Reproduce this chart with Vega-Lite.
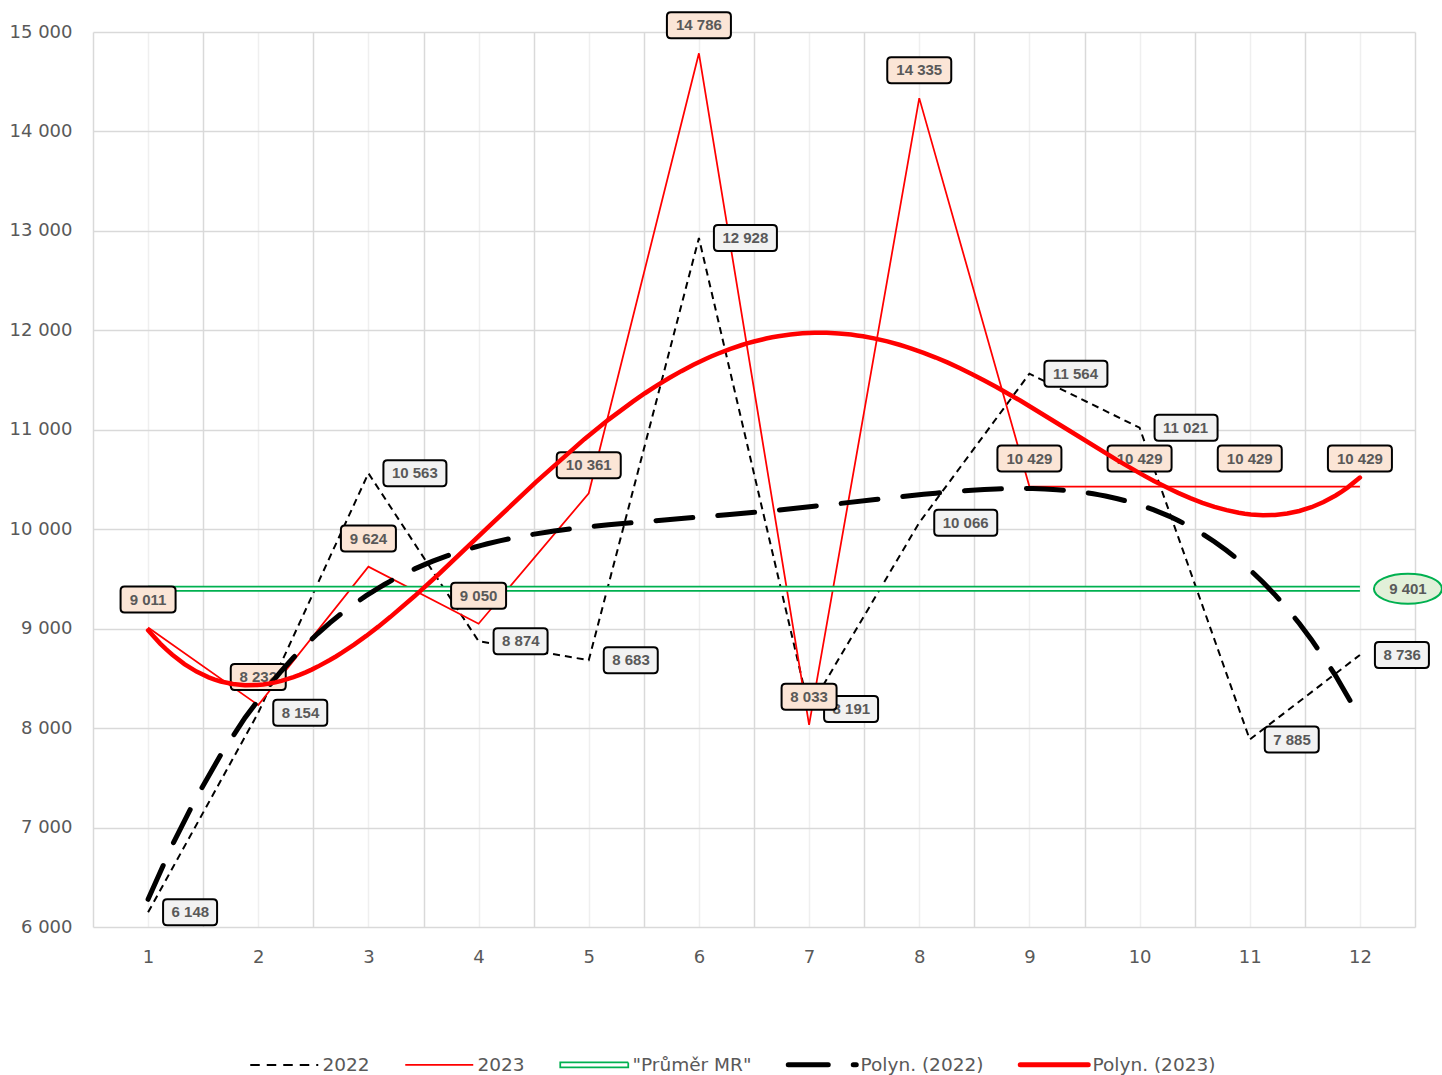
{
  "$schema": "https://vega.github.io/schema/vega-lite/v6.json",
  "width": 1322,
  "height": 895,
  "autosize": {"type": "none"},
  "padding": {"left": 93, "top": 32, "right": 27, "bottom": 148},
  "background": "white",
  "config": {
    "view": {"stroke": null},
    "font": "DejaVu Sans",
    "locale": {"number": {"decimal": ",", "thousands": " ", "grouping": [3], "currency": ["", ""]}},
    "axis": {"labelFont": "DejaVu Sans", "labelFontSize": 18, "labelColor": "#595959", "ticks": false, "tickSize": 0, "domain": false, "title": null}
  },
  "data": {
    "values": [
      {"m": 1, "v2022": 6148, "v2023": 9011, "avg": 9401},
      {"m": 2, "v2022": 8154, "v2023": 8232, "avg": 9401},
      {"m": 3, "v2022": 10563, "v2023": 9624, "avg": 9401},
      {"m": 4, "v2022": 8874, "v2023": 9050, "avg": 9401},
      {"m": 5, "v2022": 8683, "v2023": 10361, "avg": 9401},
      {"m": 6, "v2022": 12928, "v2023": 14786, "avg": 9401},
      {"m": 7, "v2022": 8191, "v2023": 8033, "avg": 9401},
      {"m": 8, "v2022": 10066, "v2023": 14335, "avg": 9401},
      {"m": 9, "v2022": 11564, "v2023": 10429, "avg": 9401},
      {"m": 10, "v2022": 11021, "v2023": 10429, "avg": 9401},
      {"m": 11, "v2022": 7885, "v2023": 10429, "avg": 9401},
      {"m": 12, "v2022": 8736, "v2023": 10429, "avg": 9401}
    ]
  },
  "resolve": {"axis": {"x": "independent", "y": "independent"}},
  "layer": [
    {
      "mark": {"type": "point", "opacity": 0},
      "encoding": {
        "x": {"field": "m", "type": "quantitative", "scale": {"domain": [0.5, 12.5], "nice": false, "zero": false},
          "axis": {"values": [0.5, 1.5, 2.5, 3.5, 4.5, 5.5, 6.5, 7.5, 8.5, 9.5, 10.5, 11.5, 12.5], "grid": true, "gridColor": "#d9d9d9", "gridWidth": 1.5, "labels": false, "orient": "bottom"}},
        "y": {"field": "v2022", "type": "quantitative", "scale": {"domain": [6000, 15000], "nice": false, "zero": false},
          "axis": {"values": [6000, 7000, 8000, 9000, 10000, 11000, 12000, 13000, 14000, 15000], "grid": true, "gridColor": "#d9d9d9", "gridWidth": 1.5, "labelPadding": 21, "format": ",.0f"}}
      }
    },
    {
      "mark": {"type": "line", "strokeWidth": 2, "strokeDash": [7, 5]},
      "encoding": {
        "x": {"field": "m", "type": "quantitative", "scale": {"domain": [0.5, 12.5], "nice": false, "zero": false},
          "axis": {"values": [1, 2, 3, 4, 5, 6, 7, 8, 9, 10, 11, 12], "grid": true, "gridColor": "#efefef", "gridWidth": 1.5, "labelPadding": 21, "orient": "bottom", "format": ",.0f"}},
        "y": {"field": "v2022", "type": "quantitative", "scale": {"domain": [6000, 15000], "nice": false, "zero": false}, "axis": null},
        "color": {
          "datum": "2022",
          "scale": {"domain": ["2022", "2023", "\"Průměr MR\"", "Polyn. (2022)", "Polyn. (2023)"], "range": ["#000000", "#FF0000", "#00B050", "#000000", "#FF0000"]},
          "legend": {
            "orient": "none", "legendX": 148, "legendY": 1023, "direction": "horizontal", "title": null,
            "symbolType": "stroke", "symbolSize": 4624, "symbolStrokeWidth": 2,
            "labelFont": "DejaVu Sans", "labelFontSize": 18.5, "labelColor": "#595959",
            "columnPadding": 26, "labelOffset": 63,
            "encode": {
              "symbols": {
                "update": {
                  "strokeDash": {"signal": "datum.value === '2022' ? [9.5, 7] : datum.value === 'Polyn. (2022)' ? [40, 25] : [1, 0]"},
                  "strokeWidth": {"signal": "datum.value === 'Polyn. (2022)' ? 5 : datum.value === 'Polyn. (2023)' ? 5 : datum.value === '2022' ? 2 : 1.75"},
                  "strokeCap": {"signal": "datum.value === 'Polyn. (2022)' || datum.value === 'Polyn. (2023)' ? 'round' : 'butt'"},
                  "shape": {"signal": "datum.value === '\"Průměr MR\"' ? 'M0,-0.07L2,-0.07L2,0.07L0,0.07Z' : 'M0,0L2,0'"},
                  "fill": {"signal": "datum.value === '\"Průměr MR\"' ? 'white' : 'transparent'"}
                }
              }
            }
          }
        }
      }
    },
    {
      "mark": {"type": "line", "strokeWidth": 1.75},
      "encoding": {
        "x": {"field": "m", "type": "quantitative", "scale": {"domain": [0.5, 12.5], "nice": false, "zero": false}, "axis": null},
        "y": {"field": "v2023", "type": "quantitative", "scale": {"domain": [6000, 15000], "nice": false, "zero": false}, "axis": null},
        "color": {"datum": "2023"}
      }
    },
    {
      "mark": {"type": "line", "strokeWidth": 6},
      "encoding": {
        "x": {"field": "m", "type": "quantitative", "scale": {"domain": [0.5, 12.5], "nice": false, "zero": false}, "axis": null},
        "y": {"field": "avg", "type": "quantitative", "scale": {"domain": [6000, 15000], "nice": false, "zero": false}, "axis": null},
        "color": {"datum": "\"Průměr MR\""}
      }
    },
    {
      "mark": {"type": "line", "strokeWidth": 2.5, "color": "white"},
      "encoding": {
        "x": {"field": "m", "type": "quantitative", "scale": {"domain": [0.5, 12.5], "nice": false, "zero": false}, "axis": null},
        "y": {"field": "avg", "type": "quantitative", "scale": {"domain": [6000, 15000], "nice": false, "zero": false}, "axis": null}
      }
    },
    {
      "mark": {"type": "point", "filled": true, "fill": "#F2F2F2", "stroke": "#000000", "strokeWidth": 2, "size": 4096, "opacity": 1},
      "encoding": {
        "x": {"field": "m", "type": "quantitative", "scale": {"domain": [0.5, 12.5], "nice": false, "zero": false}, "axis": null},
        "y": {"field": "v2022", "type": "quantitative", "scale": {"domain": [6000, 15000], "nice": false, "zero": false}, "axis": null},
        "shape": {
          "condition": {"test": "datum.v2022 >= 10000", "value": "M0.59375,-0.40625L2.3125,-0.40625Q2.4375,-0.40625 2.4375,-0.28125L2.4375,0.28125Q2.4375,0.40625 2.3125,0.40625L0.59375,0.40625Q0.46875,0.40625 0.46875,0.28125L0.46875,-0.28125Q0.46875,-0.40625 0.59375,-0.40625Z"},
          "value": "M0.59375,-0.40625L2.03125,-0.40625Q2.15625,-0.40625 2.15625,-0.28125L2.15625,0.28125Q2.15625,0.40625 2.03125,0.40625L0.59375,0.40625Q0.46875,0.40625 0.46875,0.28125L0.46875,-0.28125Q0.46875,-0.40625 0.59375,-0.40625Z"
        }
      }
    },
    {
      "mark": {"type": "text", "align": "left", "baseline": "middle", "dx": 23.5, "font": "Liberation Sans", "fontWeight": "bold", "fontSize": 15, "color": "#595959"},
      "encoding": {
        "x": {"field": "m", "type": "quantitative", "scale": {"domain": [0.5, 12.5], "nice": false, "zero": false}, "axis": null},
        "y": {"field": "v2022", "type": "quantitative", "scale": {"domain": [6000, 15000], "nice": false, "zero": false}, "axis": null},
        "text": {"field": "v2022", "type": "quantitative", "format": ","}
      }
    },
    {
      "mark": {"type": "point", "filled": true, "fill": "#FBE5D6", "stroke": "#000000", "strokeWidth": 2, "size": 4096, "opacity": 1},
      "encoding": {
        "x": {"field": "m", "type": "quantitative", "scale": {"domain": [0.5, 12.5], "nice": false, "zero": false}, "axis": null},
        "y": {"field": "v2023", "type": "quantitative", "scale": {"domain": [6000, 15000], "nice": false, "zero": false}, "axis": null},
        "shape": {
          "condition": {"test": "datum.v2023 >= 10000", "value": "M-0.875,-1.28125L0.875,-1.28125Q1,-1.28125 1,-1.15625L1,-0.59375Q1,-0.46875 0.875,-0.46875L-0.875,-0.46875Q-1,-0.46875 -1,-0.59375L-1,-1.15625Q-1,-1.28125 -0.875,-1.28125Z"},
          "value": "M-0.734375,-1.28125L0.734375,-1.28125Q0.859375,-1.28125 0.859375,-1.15625L0.859375,-0.59375Q0.859375,-0.46875 0.734375,-0.46875L-0.734375,-0.46875Q-0.859375,-0.46875 -0.859375,-0.59375L-0.859375,-1.15625Q-0.859375,-1.28125 -0.734375,-1.28125Z"
        }
      }
    },
    {
      "mark": {"type": "text", "align": "center", "baseline": "middle", "dy": -28, "font": "Liberation Sans", "fontWeight": "bold", "fontSize": 15, "color": "#595959"},
      "encoding": {
        "x": {"field": "m", "type": "quantitative", "scale": {"domain": [0.5, 12.5], "nice": false, "zero": false}, "axis": null},
        "y": {"field": "v2023", "type": "quantitative", "scale": {"domain": [6000, 15000], "nice": false, "zero": false}, "axis": null},
        "text": {"field": "v2023", "type": "quantitative", "format": ","}
      }
    },
    {
      "transform": [{"filter": "datum.m === 12"}],
      "mark": {"type": "point", "filled": true, "fill": "#E2F0D9", "stroke": "#00B050", "strokeWidth": 2, "size": 4096, "opacity": 1,
        "shape": "M0.4375,0C0.4375,-0.2589 0.9132,-0.46875 1.5,-0.46875C2.0868,-0.46875 2.5625,-0.2589 2.5625,0C2.5625,0.2589 2.0868,0.46875 1.5,0.46875C0.9132,0.46875 0.4375,0.2589 0.4375,0Z"},
      "encoding": {
        "x": {"field": "m", "type": "quantitative", "scale": {"domain": [0.5, 12.5], "nice": false, "zero": false}, "axis": null},
        "y": {"field": "avg", "type": "quantitative", "scale": {"domain": [6000, 15000], "nice": false, "zero": false}, "axis": null}
      }
    },
    {
      "transform": [{"filter": "datum.m === 12"}],
      "mark": {"type": "text", "align": "center", "baseline": "middle", "dx": 48, "font": "Liberation Sans", "fontWeight": "bold", "fontSize": 15, "color": "#595959"},
      "encoding": {
        "x": {"field": "m", "type": "quantitative", "scale": {"domain": [0.5, 12.5], "nice": false, "zero": false}, "axis": null},
        "y": {"field": "avg", "type": "quantitative", "scale": {"domain": [6000, 15000], "nice": false, "zero": false}, "axis": null},
        "text": {"field": "avg", "type": "quantitative", "format": ","}
      }
    },
    {
      "transform": [{"regression": "v2022", "on": "m", "method": "poly", "order": 4}],
      "mark": {"type": "line", "strokeWidth": 5, "strokeDash": [37, 25], "strokeCap": "round"},
      "encoding": {
        "x": {"field": "m", "type": "quantitative", "scale": {"domain": [0.5, 12.5], "nice": false, "zero": false}, "axis": null},
        "y": {"field": "v2022", "type": "quantitative", "scale": {"domain": [6000, 15000], "nice": false, "zero": false}, "axis": null},
        "color": {"datum": "Polyn. (2022)"}
      }
    },
    {
      "transform": [{"regression": "v2023", "on": "m", "method": "poly", "order": 4}],
      "mark": {"type": "line", "strokeWidth": 4.5, "strokeCap": "round"},
      "encoding": {
        "x": {"field": "m", "type": "quantitative", "scale": {"domain": [0.5, 12.5], "nice": false, "zero": false}, "axis": null},
        "y": {"field": "v2023", "type": "quantitative", "scale": {"domain": [6000, 15000], "nice": false, "zero": false}, "axis": null},
        "color": {"datum": "Polyn. (2023)"}
      }
    }
  ]
}
